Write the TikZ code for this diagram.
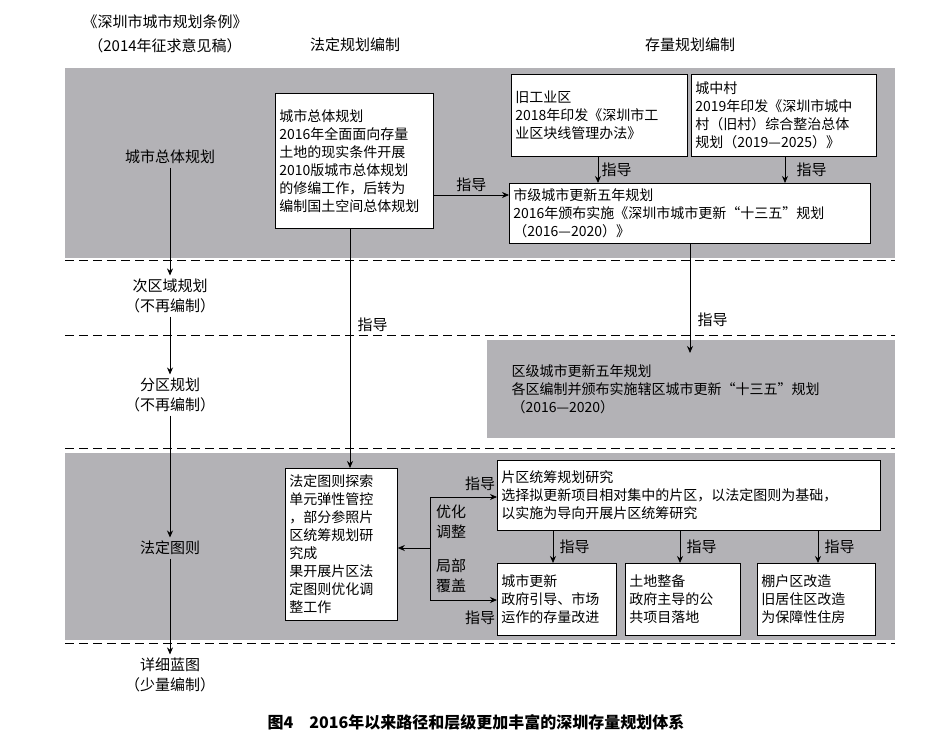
\documentclass[tikz,border=0pt]{standalone}
\usepackage{fontspec}
\setmainfont{Noto Sans CJK SC}
\usetikzlibrary{arrows.meta}
\definecolor{band}{HTML}{B3B2B6}
\begin{document}
\begin{tikzpicture}[x=1pt,y=-1pt,font=\fontsize{14}{18}\selectfont,
 tbox/.style={draw,fill=white,line width=0.8pt,align=left,anchor=north west,inner sep=4pt},
 arr/.style={-{Stealth[length=7pt,width=6pt]},line width=0.8pt},
 dl/.style={dashed,dash pattern=on 9pt off 5pt,line width=0.8pt},
 lbl/.style={font=\fontsize{15}{20}\selectfont}]
\useasboundingbox[fill=white] (0,0) rectangle (952,738);
\fill[band] (65,68) rectangle (895,258);
\fill[band] (65,453) rectangle (895,640);
\node[fill=band,minimum width=408pt,minimum height=98pt,anchor=north west,inner sep=0pt] (E) at (487,340) {};
\node[align=left,anchor=west] (Et) at (508,389) {区级城市更新五年规划\\各区编制并颁布实施辖区城市更新“十三五”规划\\（2016—2020）};
\foreach \y in {260,335,448,643} \draw[dl] (65,\y) -- (895,\y);
% headers
\node[lbl] (h1) at (165,22) {《深圳市城市规划条例》};
\node[lbl] (h2) at (165,46) {（2014年征求意见稿）};
\node[lbl] (h3) at (355,45) {法定规划编制};
\node[lbl] (h4) at (690,45) {存量规划编制};
% left column
\node[lbl] (L1) at (170,157) {城市总体规划};
\node[lbl,align=center] (L2) at (170,296) {次区域规划\\（不再编制）};
\node[lbl,align=center] (L3) at (170,395) {分区规划\\（不再编制）};
\node[lbl] (L4) at (170,548) {法定图则};
\node[lbl,align=center] (L5) at (170,675) {详细蓝图\\（少量编制）};
\draw[arr] (L1) -- (L2);
\draw[arr] (L2) -- (L3);
\draw[arr] (L3) -- (L4);
\draw[arr] (L4) -- (L5);
% boxes
\node[tbox,text width=150pt,minimum height=135pt] (A) at (275,93) {城市总体规划\\2016年全面面向存量\\土地的现实条件开展\\2010版城市总体规划\\的修编工作，后转为\\编制国土空间总体规划};
\node[tbox,text width=168pt,minimum height=82pt] (B) at (511,74) {旧工业区\\2018年印发《深圳市工\\业区块线管理办法》};
\node[tbox,text width=177pt,minimum height=82pt] (C) at (691,74) {城中村\\2019年印发《深圳市城中\\村（旧村）综合整治总体\\规划（2019—2025）》};
\node[tbox,text width=353pt,minimum height=60pt] (D) at (509,183) {市级城市更新五年规划\\2016年颁布实施《深圳市城市更新“十三五”规划\\（2016—2020）》};
\node[tbox,text width=104pt,minimum height=152pt] (F) at (285,468) {法定图则探索\\单元弹性管控\\，部分参照片\\区统筹规划研\\究成\\果开展片区法\\定图则优化调\\整工作};
\node[tbox,text width=375pt,minimum height=70pt] (G) at (497,460) {片区统筹规划研究\\选择拟更新项目相对集中的片区，以法定图则为基础，\\以实施为导向开展片区统筹研究};
\node[tbox,text width=111pt,minimum height=72pt] (H) at (497,563) {城市更新\\政府引导、市场\\运作的存量改进};
\node[tbox,text width=107pt,minimum height=72pt] (I) at (625,563) {土地整备\\政府主导的公\\共项目落地};
\node[tbox,text width=110pt,minimum height=72pt] (J) at (757,563) {棚户区改造\\旧居住区改造\\为保障性住房};
% connectors
\draw[arr] (A.east |- 0,195) -- (D.west |- 0,195) node[lbl,midway,above] {指导};
\draw[arr] (B.south -| 598,0) -- (D.north -| 598,0) node[lbl,midway,right] {指导};
\draw[arr] (C.south -| 785,0) -- (D.north -| 785,0) node[lbl,midway,right,xshift=8pt] {指导};
\draw[arr] (A.south -| 350,0) -- (F.north -| 350,0) node[lbl,pos=0.4,right,xshift=4pt] {指导};
\draw[arr] (D.south -| 690,0) -- (690,353) node[lbl,pos=0.7,right,xshift=4pt] {指导};
\coordinate (b1) at (430,497);
\coordinate (b2) at (430,600);
\coordinate (bm) at (430,548);
\draw[line width=0.8pt] (b1) -- (b2);
\draw[arr] (bm) -- (F.east |- bm);
\draw[arr] (b1) -- (G.west |- b1);
\draw[arr] (b2) -- (H.west |- b2);
\node[lbl] (t1) at (480,484) {指导};
\node[lbl] (t2) at (480,618) {指导};
\node[lbl,align=center] (t3) at (451,522) {优化\\调整};
\node[lbl,align=center] (t4) at (451,576) {局部\\覆盖};
\draw[arr] (G.south -| 553,0) -- (H.north -| 553,0) node[lbl,midway,right,xshift=3pt] {指导};
\draw[arr] (G.south -| 680,0) -- (I.north -| 680,0) node[lbl,midway,right,xshift=3pt] {指导};
\draw[arr] (G.south -| 818,0) -- (J.north -| 818,0) node[lbl,midway,right,xshift=3pt] {指导};
\node[font=\fontsize{16}{18}\selectfont\bfseries] (cap) at (476,722) {图4\quad 2016年以来路径和层级更加丰富的深圳存量规划体系};
\end{tikzpicture}
\end{document}
